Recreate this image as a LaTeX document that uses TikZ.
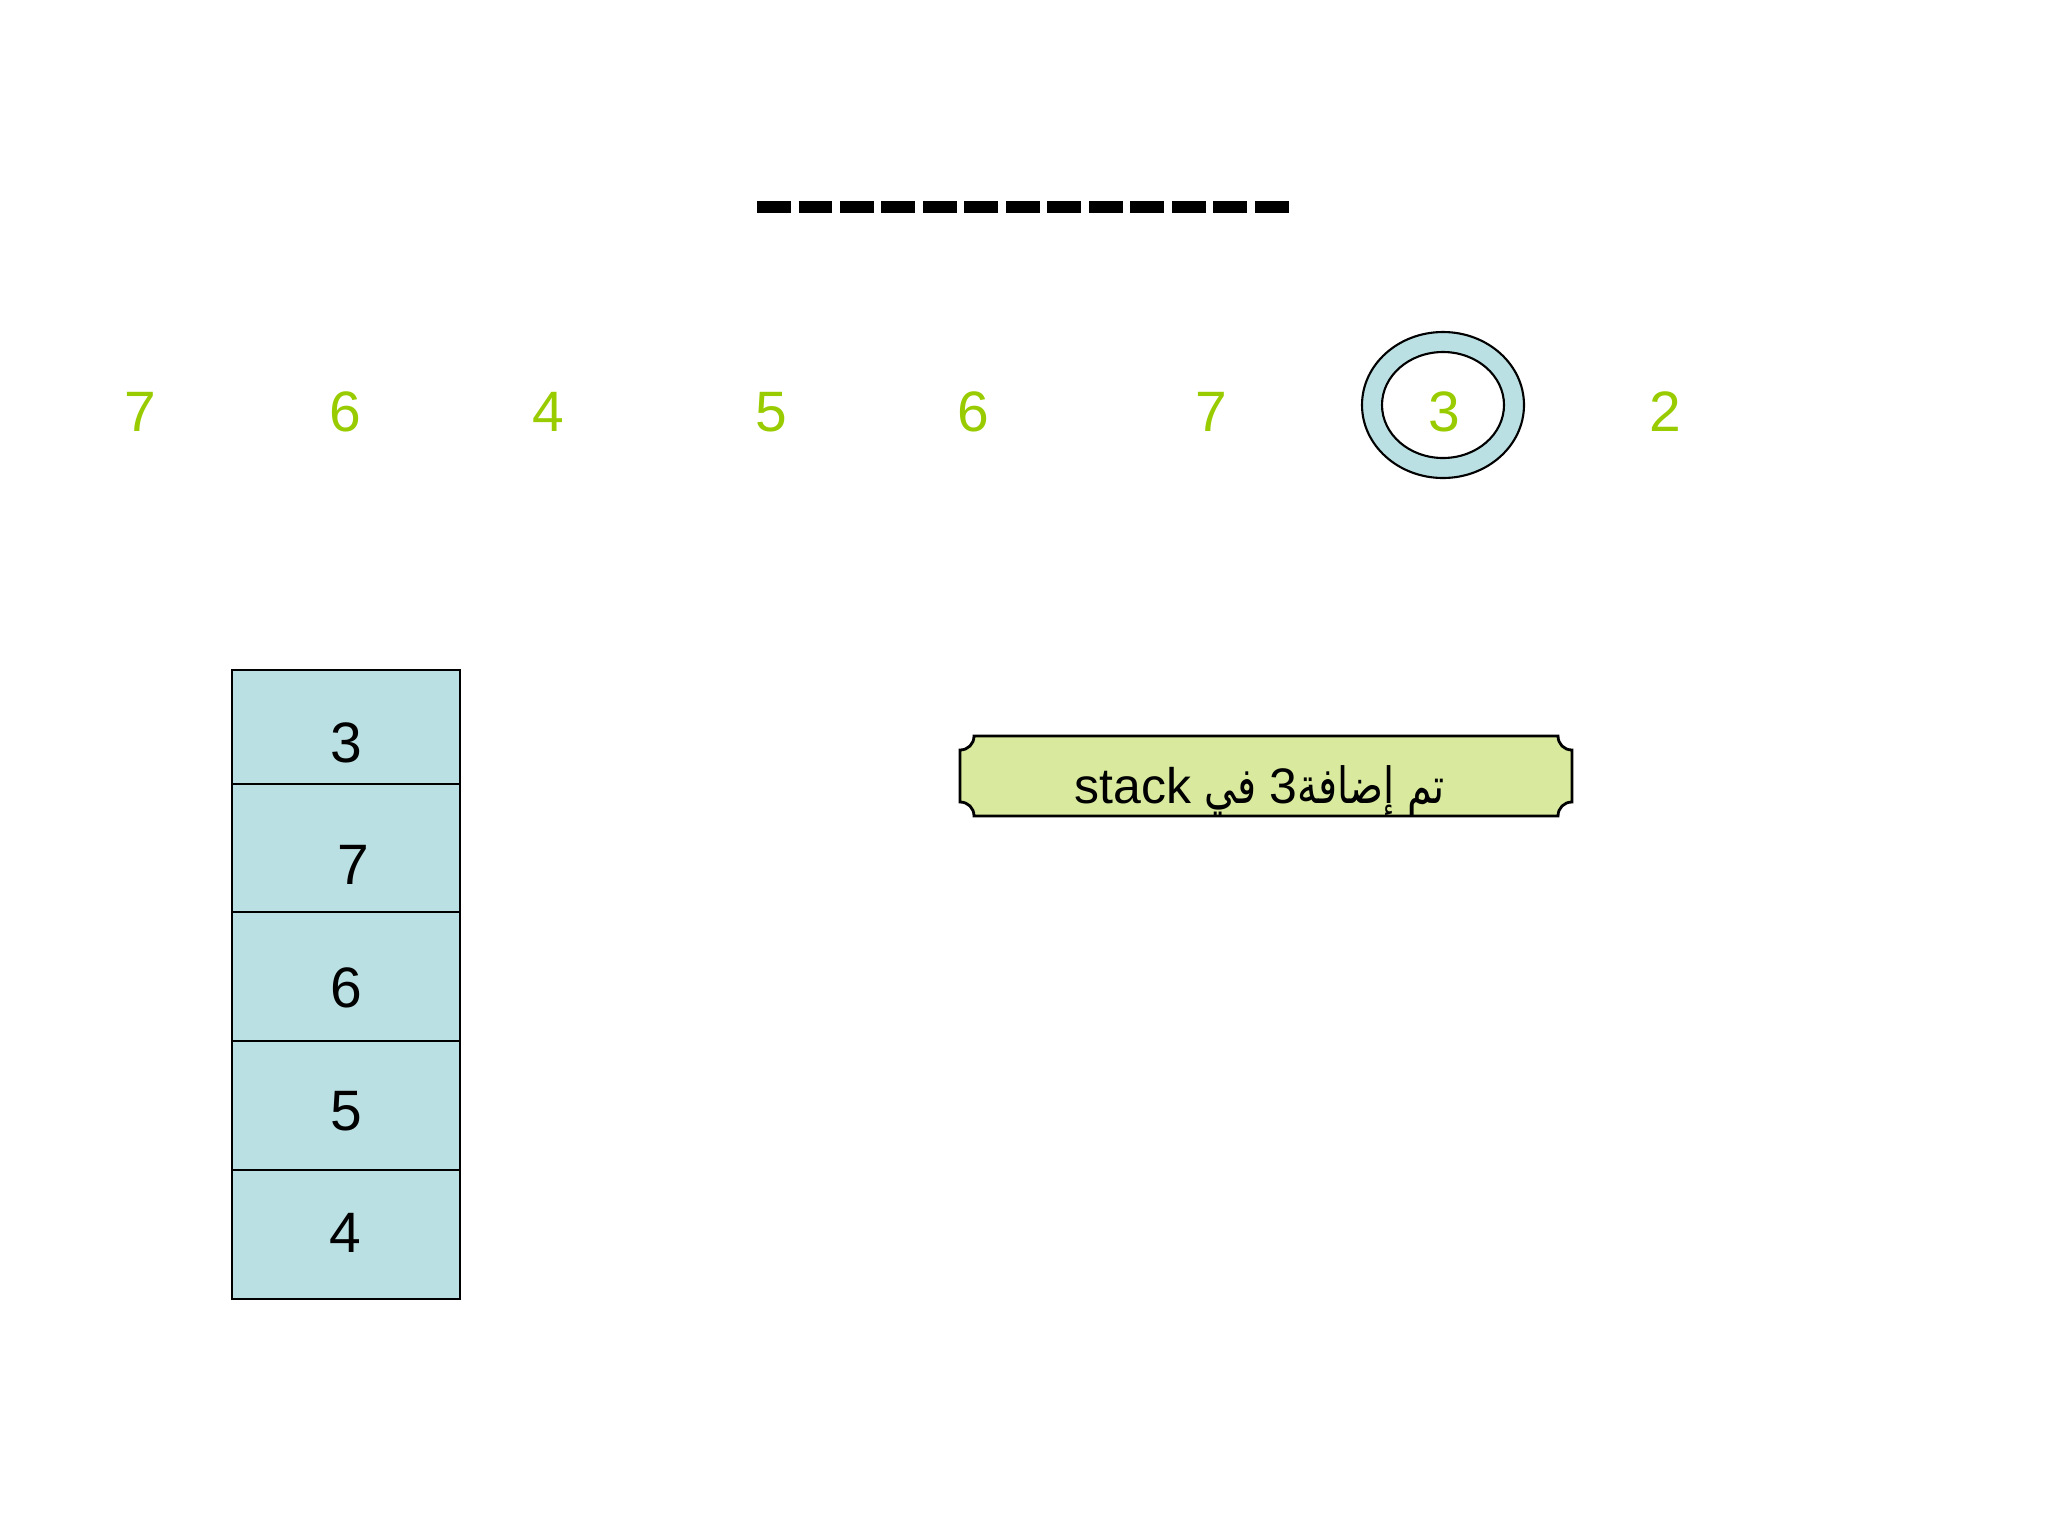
\documentclass[tikz,border=0pt]{standalone}
\usepackage{fontspec}
\setmainfont{Liberation Sans}
\newfontfamily\arabicfont[Script=Arabic,FakeStretch=0.8]{DejaVu Sans}
\TeXXeTstate=1
\usetikzlibrary{positioning}
\definecolor{numgreen}{HTML}{99CC00}
\definecolor{cellblue}{HTML}{BBE0E3}
\definecolor{notegreen}{HTML}{D9EA9E}

\begin{document}
\begin{tikzpicture}[x=0.01cm,y=-0.01cm,line join=miter,
  num/.style={text=numgreen,font=\fontsize{16.2}{19}\selectfont,inner sep=0pt},
  cellnum/.style={text=black,font=\fontsize{16.2}{19}\selectfont,inner sep=0pt},
  cell/.style={draw=black,fill=cellblue,line width=0.6pt}]
\useasboundingbox (0,0) rectangle (2048,1536);
%% title bar
\draw [line width=3.4pt,dash pattern=on 9.6pt off 2.2pt] (757,207) -- (1291,207);
%% ring round the current item
\fill [cellblue,even odd rule] (1443,405) ellipse (81 and 73) (1443,405) ellipse (61 and 53);
\draw [line width=0.6pt] (1443,405) ellipse (81 and 73);
\draw [line width=0.6pt] (1443,405) ellipse (61 and 53);
%% input row
\node (in_1) at (140,412) [num] {7};
\node (in_2) at (345,412) [num] {6};
\node (in_3) at (548,412) [num] {4};
\node (in_4) at (771,412) [num] {5};
\node (in_5) at (973,412) [num] {6};
\node (in_6) at (1211,412) [num] {7};
\node (in_7) at (1444,412) [num] {3};
\node (in_8) at (1665,412) [num] {2};
%% stack
\draw [cell] (232,670) rectangle (460,784);
\draw [cell] (232,784) rectangle (460,912);
\draw [cell] (232,912) rectangle (460,1041);
\draw [cell] (232,1041) rectangle (460,1170);
\draw [cell] (232,1170) rectangle (460,1299);
\node (stk_1) at (346,743) [cellnum] {3};
\node (stk_2) at (353,865) [cellnum] {7};
\node (stk_3) at (346,988) [cellnum] {6};
\node (stk_4) at (346,1111) [cellnum] {5};
\node (stk_5) at (345,1233) [cellnum] {4};
%% message plaque
\draw [fill=notegreen,line width=0.8pt] (974,736) -- (1558,736)
  .. controls (1558,744) and (1564,750) .. (1572,750) -- (1572,802)
  .. controls (1564,802) and (1558,808) .. (1558,816) -- (974,816)
  .. controls (974,808) and (968,802) .. (960,802) -- (960,750)
  .. controls (968,750) and (974,744) .. (974,736) -- cycle;
\node (msg) at (1260,803) [anchor=base,inner sep=0pt,font=\fontsize{14.2}{17}\selectfont]
  {\arabicfont\beginR تم إضافة{\rmfamily 3} في \beginL{\rmfamily stack}\endL\endR};
\end{tikzpicture}
\end{document}
